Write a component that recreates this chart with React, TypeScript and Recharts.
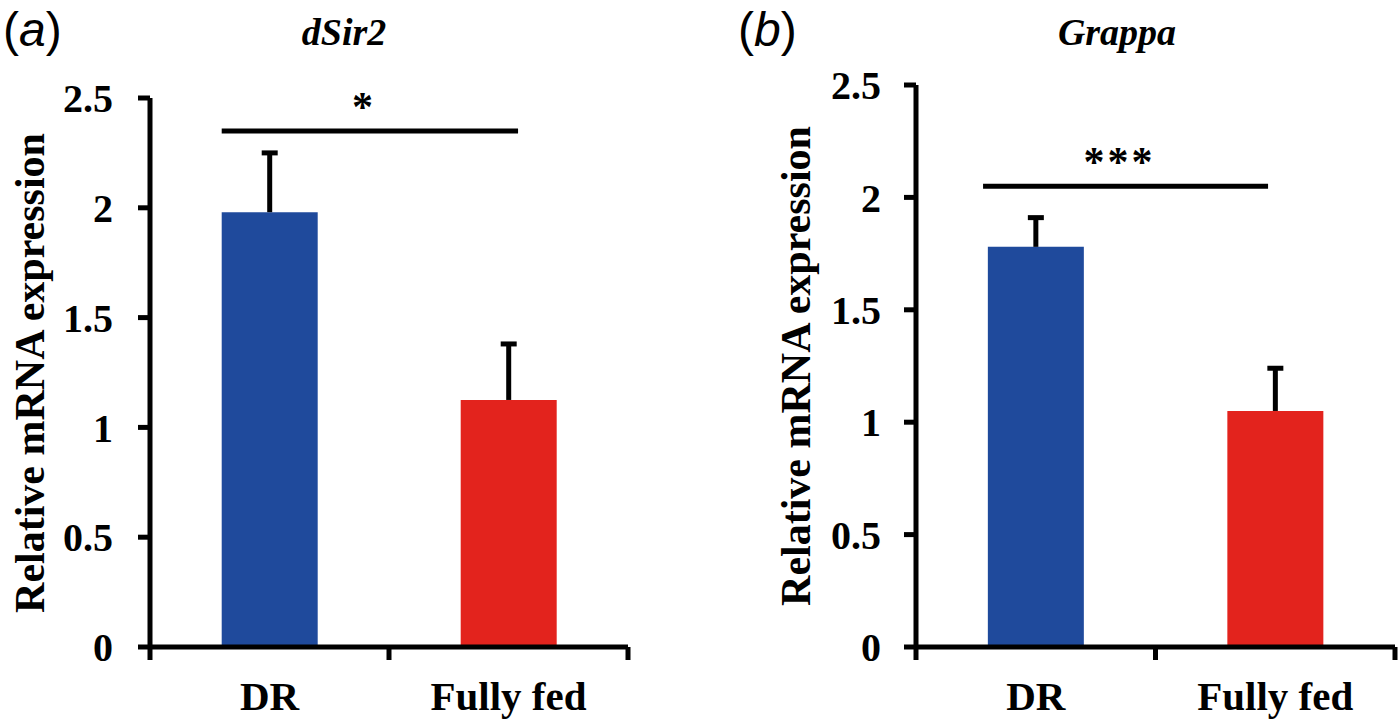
import { BarChart, Bar, Cell, XAxis, YAxis, ReferenceLine } from 'recharts';

const CATEGORIES = ['DR', 'Fully fed'];
const BAR_COLORS = ['#1F4A9C', '#E3231D'];
const Y_TICKS = [0, 0.5, 1, 1.5, 2, 2.5];

// panel (a) dSir2
const SIR2_MEAN = [1.98, 1.125];
const SIR2_ERR = [0.27, 0.255];
// panel (b) Grappa
const GRAPPA_MEAN = [1.78, 1.05];
const GRAPPA_ERR = [0.13, 0.19];

// significance bars: level, how far the bar runs past the DR / Fully fed centres
// (as a share of the distance between the two centres), and the mark
const SIG_LEVEL = [2.35, 2.05];
const SIG_EXT_LEFT = [0.2, 0.22];
const SIG_EXT_RIGHT = [0.04, -0.03];
const SIG_MARK = ['*', '***'];

const SERIF = 'Liberation Serif';
const SANS = 'Liberation Sans';
const INK = '#000';

function CategoryTick(props: any) {
  const { x, y, payload, index, visibleTicksCount } = props;
  const half = payload.offset ?? 0;
  const edges = [x - half];
  const last = visibleTicksCount ?? CATEGORIES.length;
  if (index === last - 1) edges.push(x + half);
  return (
    <g>
      {edges.map((ex: number) => (
        <line key={ex} x1={ex} x2={ex} y1={y} y2={y + 13} stroke={INK} strokeWidth={5} />
      ))}
      <text
        x={x}
        y={y + 63}
        textAnchor="middle"
        style={{ fontFamily: SERIF, fontWeight: 'bold', fontSize: 41 }}
        fill={INK}
      >
        {payload.value}
      </text>
    </g>
  );
}

function ErrorShape(props: any) {
  const { x, y, width, height } = props;
  const cx = x + width / 2;
  return (
    <g>
      <line x1={cx} x2={cx} y1={y} y2={y + height} stroke={INK} strokeWidth={5} />
      <line x1={cx - 8} x2={cx + 8} y1={y} y2={y} stroke={INK} strokeWidth={5} />
    </g>
  );
}

function SigShape(props: any) {
  const { x1, y1, x2, mark, extLeft, extRight } = props;
  const span = x2 - x1;
  const start = x1 - extLeft * span;
  const end = x2 + extRight * span;
  const mid = (start + end) / 2 - 6;
  return (
    <g>
      <line x1={start} x2={end} y1={y1} y2={y1} stroke={INK} strokeWidth={5} />
      <text
        x={mid}
        y={y1 - 10}
        textAnchor="middle"
        style={{ fontFamily: SERIF, fontWeight: 'bold', fontSize: 42, letterSpacing: 3 }}
        fill={INK}
      >
        {mark}
      </text>
    </g>
  );
}

interface PanelProps {
  means: number[];
  errs: number[];
  sig: number;
  extLeft: number;
  extRight: number;
  mark: string;
  width: number;
  top: number;
  yAxisWidth: number;
  right: number;
  tickMargin: number;
}

function Panel({ means, errs, sig, extLeft, extRight, mark, width, top, yAxisWidth, right, tickMargin }: PanelProps) {
  const data = CATEGORIES.map((name, i) => ({ name, mean: means[i], err: errs[i] }));
  return (
    <BarChart
      width={width}
      height={724}
      data={data}
      margin={{ top, right, left: 0, bottom: 0 }}
      barCategoryGap="30%"
    >
      <XAxis
        dataKey="name"
        height={77}
        interval={0}
        tickLine={false}
        tickSize={0}
        tickMargin={0}
        axisLine={{ stroke: INK, strokeWidth: 5 }}
        tick={(p: any) => <CategoryTick {...p} />}
      />
      <YAxis
        width={yAxisWidth}
        domain={[0, 2.5]}
        ticks={Y_TICKS}
        interval={0}
        tickSize={12}
        tickMargin={tickMargin}
        axisLine={{ stroke: INK, strokeWidth: 5 }}
        tickLine={{ stroke: INK, strokeWidth: 5 }}
        tick={{ fontFamily: SERIF, fontWeight: 'bold', fontSize: 40, fill: INK }}
      />
      <Bar dataKey="mean" stackId="s" isAnimationActive={false}>
        {data.map((d, i) => (
          <Cell key={d.name} fill={BAR_COLORS[i]} />
        ))}
      </Bar>
      <Bar
        dataKey="err"
        stackId="s"
        fill="none"
        isAnimationActive={false}
        shape={(p: any) => <ErrorShape {...p} />}
      />
      <ReferenceLine
        segment={[
          { x: CATEGORIES[0], y: sig },
          { x: CATEGORIES[1], y: sig },
        ]}
        stroke={INK}
        strokeWidth={5}
        shape={(p: any) => <SigShape {...p} mark={mark} extLeft={extLeft} extRight={extRight} />}
      />
    </BarChart>
  );
}

export default function App() {
  const yLabel = 'Relative mRNA expression';
  return (
    <div style={{ position: 'absolute', left: 0, top: 0, width: 1400, height: 724, background: '#fff' }}>
      <div style={{ position: 'absolute', left: 0, top: 0 }}>
        <Panel
          means={SIR2_MEAN}
          errs={SIR2_ERR}
          sig={SIG_LEVEL[0]}
          extLeft={SIG_EXT_LEFT[0]}
          extRight={SIG_EXT_RIGHT[0]}
          mark={SIG_MARK[0]}
          width={700}
          top={98}
          yAxisWidth={150}
          right={72}
          tickMargin={25}
        />
      </div>
      <div style={{ position: 'absolute', left: 760, top: 0 }}>
        <Panel
          means={GRAPPA_MEAN}
          errs={GRAPPA_ERR}
          sig={SIG_LEVEL[1]}
          extLeft={SIG_EXT_LEFT[1]}
          extRight={SIG_EXT_RIGHT[1]}
          mark={SIG_MARK[1]}
          width={640}
          top={85}
          yAxisWidth={156}
          right={5}
          tickMargin={23}
        />
      </div>
      <svg
        width={1400}
        height={724}
        style={{ position: 'absolute', left: 0, top: 0, pointerEvents: 'none' }}
      >
        <text x={3} y={46} style={{ fontFamily: SANS, fontSize: 48 }} fill={INK}>
          (<tspan fontStyle="italic">a</tspan>)
        </text>
        <text x={738} y={46} style={{ fontFamily: SANS, fontSize: 48 }} fill={INK}>
          (<tspan fontStyle="italic">b</tspan>)
        </text>
        <text x={344} y={45} textAnchor="middle" style={{ fontFamily: SERIF, fontWeight: 'bold', fontStyle: 'italic', fontSize: 38 }} fill={INK}>
          dSir2
        </text>
        <text x={1117} y={45} textAnchor="middle" style={{ fontFamily: SERIF, fontWeight: 'bold', fontStyle: 'italic', fontSize: 38 }} fill={INK}>
          Grappa
        </text>
        <text
          x={30}
          y={373}
          transform="rotate(-90 30 373)"
          textAnchor="middle"
          dominantBaseline="central"
          style={{ fontFamily: SERIF, fontWeight: 'bold', fontSize: 42 }}
          fill={INK}
        >
          {yLabel}
        </text>
        <text
          x={796}
          y={366}
          transform="rotate(-90 796 366)"
          textAnchor="middle"
          dominantBaseline="central"
          style={{ fontFamily: SERIF, fontWeight: 'bold', fontSize: 42 }}
          fill={INK}
        >
          {yLabel}
        </text>
      </svg>
    </div>
  );
}
